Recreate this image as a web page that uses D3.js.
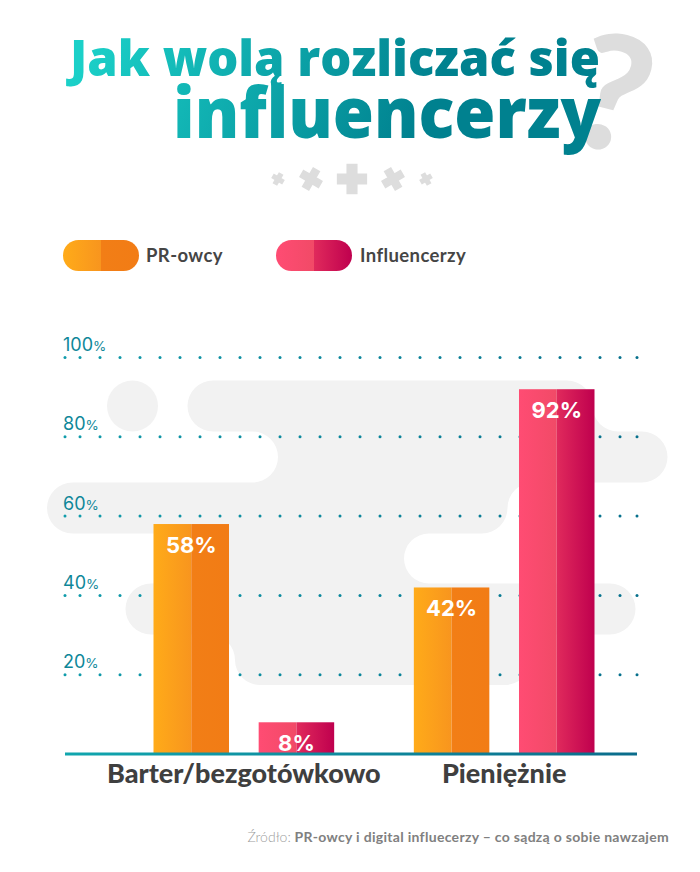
<!DOCTYPE html>
<html>
<head>
<meta charset="utf-8">
<script src="https://cdn.jsdelivr.net/npm/d3@7"></script>
<style>
  body { margin: 0; background: #fff; }
  svg { display: block; font-family: Lato, sans-serif; }
</style>
</head>
<body>
<svg id="chart" width="700" height="872"></svg>
<script>
// Chart values.
const categories = ['Barter/bezgotówkowo', 'Pieniężnie'];
const seriesNames = ['PR-owcy', 'Influencerzy'];
const prValues = [58, 42];
const influencerValues = [8, 92];
const yTicks = [20, 40, 60, 80, 100];
const titleLines = ['Jak wolą rozliczać się', 'influencerzy'];
const sourcePrefix = 'Źródło: ';
const sourceText = 'PR-owcy i digital influecerzy – co sądzą o sobie nawzajem';

const seriesValues = [prValues, influencerValues];
const svg = d3.select('#chart');
const defs = svg.append('defs');

function addGradient(id, stops, coords) {
  const g = defs.append('linearGradient').attr('id', id);
  Object.entries(coords || {}).forEach(([k, v]) => g.attr(k, v));
  stops.forEach((c, i) => g.append('stop').attr('offset', i / (stops.length - 1)).attr('stop-color', c));
}

addGradient('orangeLeft', ['#ffab19', '#f8951e']);
addGradient('orangeRight', ['#f27e16', '#f27c15']);
addGradient('pinkLeft', ['#ff4c73', '#f14a67']);
addGradient('pinkRight', ['#e02a5c', '#bf004e']);
addGradient('title', ['#1bd0c8', '#00818f'],
  { gradientUnits: 'userSpaceOnUse', x1: 90, y1: 40, x2: 400, y2: 170 });
addGradient('axisLine', ['#10a6ae', '#0b6c8b'],
  { gradientUnits: 'userSpaceOnUse', x1: 65, y1: 0, x2: 637, y2: 0 });

const seriesFill = [['orangeLeft', 'orangeRight'], ['pinkLeft', 'pinkRight']];

// Scales.
const y = d3.scaleLinear().domain([0, 100]).range([754, 357.5]);
const x0 = d3.scaleBand().domain(categories).range([153.5, 594.5]).paddingInner(0.306);
const x1 = d3.scaleBand().domain(seriesNames).range([0, x0.bandwidth()]).paddingInner(0.282);

// Grey background shape.
svg.append('path')
  .attr('fill', '#f2f2f2')
  .attr('d', 'M213,380.5 H567 A25.5,25.5 0 0 1 592.5,406 A25.5,25.5 0 0 0 618,431.5 H642 A25.5,25.5 0 0 1 642,482.5 ' +
    'H533 A25.5,25.5 0 0 0 507.5,508 A25.5,25.5 0 0 1 482,533.5 H429 A25,25 0 0 0 429,583.5 H610 A25.5,25.5 0 0 1 610,634.5 ' +
    'H530 V660 A25,25 0 0 1 505,685 H260 A25,25 0 0 1 235,660 A25.5,25.5 0 0 0 209.5,634.5 H151 A25.5,25.5 0 0 1 151,583.5 ' +
    'H190 V533.5 H72.5 A25.5,25.5 0 0 1 72.5,482.5 H252.5 A25.5,25.5 0 0 0 252.5,431.5 H213 A25.5,25.5 0 0 1 213,380.5 Z');
svg.append('circle').attr('cx', 132.5).attr('cy', 406).attr('r', 25.5).attr('fill', '#f2f2f2');

// Question mark sits behind the title.
svg.append('text')
  .attr('transform', 'translate(563,140) rotate(14)')
  .attr('font-size', 160)
  .attr('font-weight', 900)
  .attr('fill', '#dddddd')
  .text('?');

// Title.
svg.append('text')
  .attr('x', 70).attr('y', 76)
  .style('font-family', '"Open Sans", sans-serif')
  .attr('font-size', 50).attr('font-weight', 800)
  .attr('fill', 'url(#title)')
  .attr('textLength', 530).attr('lengthAdjust', 'spacingAndGlyphs')
  .text(titleLines[0]);
svg.append('text')
  .attr('x', 173).attr('y', 138)
  .style('font-family', '"Open Sans", sans-serif')
  .attr('font-size', 71).attr('font-weight', 800)
  .attr('fill', 'url(#title)')
  .attr('textLength', 428).attr('lengthAdjust', 'spacingAndGlyphs')
  .text(titleLines[1]);

// Row of crosses under the title.
const crossX = [278, 311, 352, 393, 426];
const crossSize = [70, 250, 460, 250, 70];
const crossAngle = [30, 30, 0, -30, -30];
svg.append('g').selectAll('path')
  .data(crossX)
  .join('path')
  .attr('d', (d, i) => d3.symbol(d3.symbolCross, crossSize[i])())
  .attr('transform', (d, i) => `translate(${d},179) rotate(${crossAngle[i]})`)
  .attr('fill', '#dddddd')
  .attr('stroke', '#dddddd')
  .attr('stroke-width', 1.5);

// Legend.
const legendX = [63, 276];
const legend = svg.append('g').selectAll('g')
  .data(seriesNames)
  .join('g')
  .attr('transform', (d, i) => `translate(${legendX[i]},240)`);
defs.selectAll('clipPath').data(seriesNames).join('clipPath')
  .attr('id', (d, i) => 'pill' + i)
  .append('rect').attr('width', 76).attr('height', 31).attr('rx', 15.5);
legend.each(function (d, i) {
  const g = d3.select(this).append('g').attr('clip-path', `url(#pill${i})`);
  g.append('rect').attr('width', 38).attr('height', 31).attr('fill', `url(#${seriesFill[i][0]})`);
  g.append('rect').attr('x', 38).attr('width', 38).attr('height', 31).attr('fill', `url(#${seriesFill[i][1]})`);
});
legend.append('text')
  .attr('x', (d, i) => i === 0 ? 83 : 84)
  .attr('y', 21.5)
  .attr('font-size', 18.5).attr('font-weight', 700)
  .attr('letter-spacing', 0.4)
  .attr('fill', '#454545')
  .text(d => d);

// Y axis labels with dotted guides.
const yAxis = svg.append('g')
  .call(d3.axisRight(y).tickValues(yTicks).tickSize(0).tickFormat(d => d));
yAxis.select('.domain').remove();
yAxis.selectAll('.tick text')
  .attr('x', 63).attr('dy', '-7')
  .attr('text-anchor', 'start')
  .style('font-family', 'Inter, sans-serif')
  .attr('font-size', 18).attr('font-weight', 400)
  .attr('fill', '#0e8799')
  .append('tspan').attr('font-size', 13.5).text('%');

const dotX = [65].concat(d3.range(80, 621, 20), [637]);
svg.append('g').selectAll('g')
  .data(yTicks)
  .join('g')
  .attr('transform', d => `translate(0,${y(d)})`)
  .selectAll('circle')
  .data(dotX)
  .join('circle')
  .attr('cx', d => d).attr('r', 1.5)
  .attr('fill', d => d3.interpolateRgb('#109cab', '#06708c')((d - 65) / 572));

// Bars, two-tone like the reference.
const groups = svg.append('g').selectAll('g')
  .data(categories)
  .join('g')
  .attr('transform', d => `translate(${x0(d)},0)`);

groups.each(function (cat, c) {
  const g = d3.select(this);
  seriesNames.forEach((name, s) => {
    const value = seriesValues[s][c];
    const w = x1.bandwidth();
    g.append('rect')
      .attr('x', x1(name)).attr('y', y(value))
      .attr('width', w / 2).attr('height', y(0) - y(value))
      .attr('fill', `url(#${seriesFill[s][0]})`);
    g.append('rect')
      .attr('x', x1(name) + w / 2).attr('y', y(value))
      .attr('width', w / 2).attr('height', y(0) - y(value))
      .attr('fill', `url(#${seriesFill[s][1]})`);
    g.append('text')
      .attr('x', x1(name) + w / 2).attr('y', y(value) + 29)
      .attr('text-anchor', 'middle')
      .style('font-family', 'Inter, sans-serif')
      .attr('font-size', 22).attr('font-weight', 700)
      .attr('fill', '#fff')
      .text(value + '%');
  });
});

// X axis.
const xAxis = svg.append('g')
  .attr('transform', `translate(0,${y(0)})`)
  .call(d3.axisBottom(x0).tickSize(0).tickPadding(10));
xAxis.select('.domain').remove();
xAxis.selectAll('.tick text')
  .style('font-family', 'Lato, sans-serif')
  .attr('font-size', 27).attr('font-weight', 900)
  .attr('fill', '#3f3f3f');
svg.append('line')
  .attr('x1', 65).attr('x2', 637)
  .attr('y1', y(0)).attr('y2', y(0))
  .attr('stroke', 'url(#axisLine)').attr('stroke-width', 3);

// Source note.
const source = svg.append('text')
  .attr('x', 669).attr('y', 842)
  .attr('text-anchor', 'end')
  .attr('font-size', 14);
source.append('tspan').attr('fill', '#9c9c9c').attr('font-weight', 300).text(sourcePrefix);
source.append('tspan').attr('fill', '#808080').attr('font-weight', 700).attr('letter-spacing', 0.3).text(sourceText);
</script>
</body>
</html>
